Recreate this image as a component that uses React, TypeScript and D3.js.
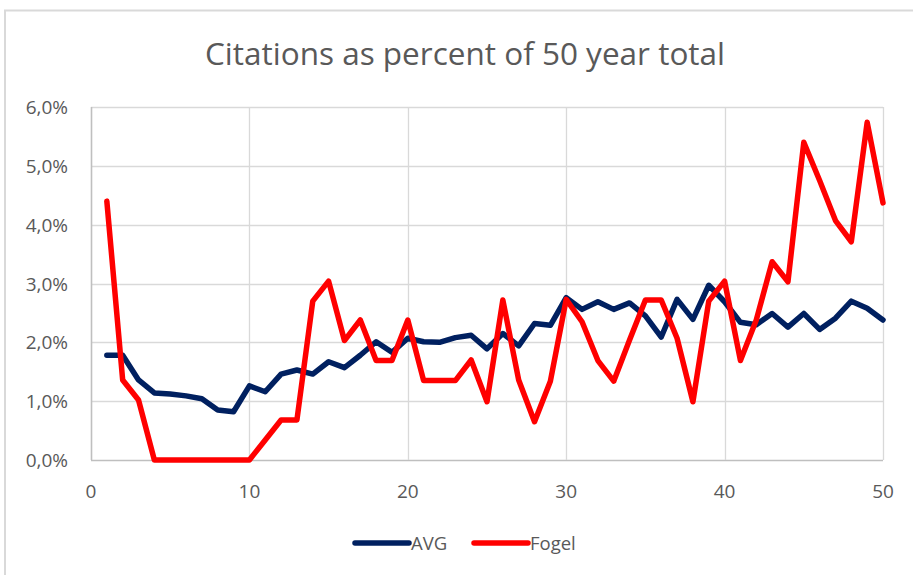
import React from 'react'
import { scaleLinear, line, range } from 'd3'

const years = range(1, 51)

// percent values
const avg = [
  1.78, 1.78, 1.36, 1.14, 1.12, 1.09, 1.04, 0.85, 0.82, 1.26,
  1.16, 1.46, 1.53, 1.46, 1.67, 1.57, 1.78, 2.01, 1.83, 2.07,
  2.01, 2.0, 2.08, 2.12, 1.89, 2.15, 1.94, 2.32, 2.29, 2.76,
  2.56, 2.69, 2.56, 2.67, 2.45, 2.09, 2.73, 2.39, 2.97, 2.69,
  2.34, 2.3, 2.49, 2.26, 2.49, 2.22, 2.41, 2.7, 2.58, 2.38,
]
const fogel = [
  4.4, 1.36, 1.02, 0, 0, 0, 0, 0, 0, 0,
  0.34, 0.68, 0.68, 2.7, 3.04, 2.03, 2.38, 1.69, 1.69, 2.38,
  1.35, 1.35, 1.35, 1.7, 0.99, 2.72, 1.36, 0.65, 1.34, 2.73,
  2.35, 1.69, 1.34, 2.04, 2.72, 2.72, 2.07, 0.99, 2.7, 3.04,
  1.69, 2.38, 3.37, 3.03, 5.4, 4.75, 4.07, 3.71, 5.74, 4.37,
]
const yTicks = [0, 1, 2, 3, 4, 5, 6]
const xTicks = [0, 10, 20, 30, 40, 50]
const series = [
  { name: 'AVG', color: '#002060', values: avg },
  { name: 'Fogel', color: '#FF0000', values: fogel },
]

export default function App() {
  const width = 913, height = 575
  const x = scaleLinear().domain([0, 50]).range([91, 883])
  const y = scaleLinear().domain([0, 6]).range([460, 107])
  const font = 'Open Sans, Liberation Sans, sans-serif'
  const grey = '#595959'

  const mk = (vals: number[]) =>
    line<number>().x((d, i) => x(years[i])).y(d => y(d))(vals) || ''

  return (
    <svg width={width} height={height} style={{ position: 'absolute', left: 0, top: 0, background: '#fff' }}>
      <rect x={5} y={10.5} width={width} height={height} fill='#fff' stroke='#d9d9d9' strokeWidth={2} />
      <text x={465} y={65} textAnchor='middle' fontFamily={font} fontSize={31.5} fill={grey}>
        Citations as percent of 50 year total
      </text>

      {yTicks.map(t => (
        <g key={'y' + t}>
          <line x1={x(0)} x2={x(50)} y1={Math.round(y(t)) + 0.5} y2={Math.round(y(t)) + 0.5}
            stroke={t === 0 ? '#bfbfbf' : '#d9d9d9'} strokeWidth={t === 0 ? 1.6 : 1.3} />
          <text x={68} y={y(t) + 7} textAnchor='end' fontFamily={font} fontSize={19} fill={grey}>
            {t.toFixed(1).replace('.', ',')}%
          </text>
        </g>
      ))}
      {xTicks.map(t => (
        <g key={'x' + t}>
          <line x1={Math.round(x(t)) + 0.5} x2={Math.round(x(t)) + 0.5} y1={y(6)} y2={y(0)}
            stroke={t === 0 ? '#bfbfbf' : '#d9d9d9'} strokeWidth={t === 0 ? 1.6 : 1.3} />
          <text x={x(t)} y={y(0) + 38} textAnchor='middle' fontFamily={font} fontSize={19} fill={grey}>
            {t}
          </text>
        </g>
      ))}

      {series.map(s => (
        <path key={s.name} d={mk(s.values)} fill='none' stroke={s.color} strokeWidth={5.5}
          strokeLinejoin='round' strokeLinecap='round' />
      ))}

      {series.map((s, i) => (
        <g key={'lg' + s.name} transform={`translate(${355 + i * 119},543)`}>
          <line x1={0} x2={54} y1={0} y2={0} stroke={s.color} strokeWidth={5.5} strokeLinecap='round' />
          <text x={56} y={6.5} fontFamily={font} fontSize={18.5} fill={grey}>{s.name}</text>
        </g>
      ))}
    </svg>
  )
}
